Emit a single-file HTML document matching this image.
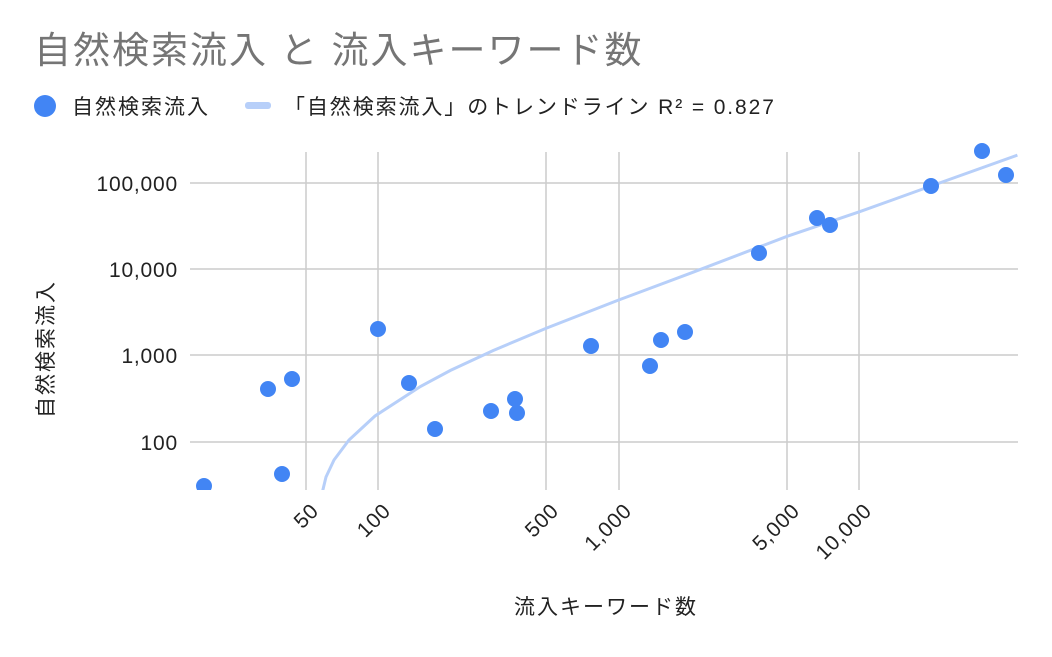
<!DOCTYPE html>
<html><head><meta charset="utf-8"><style>
body{margin:0;background:#fff;}
svg text{font-family:"Liberation Sans","Noto Sans CJK JP",sans-serif;}
</style></head><body>
<svg width="1052" height="652" viewBox="0 0 1052 652" xmlns="http://www.w3.org/2000/svg">
<rect width="1052" height="652" fill="#fff"/>
<text x="34" y="63" font-size="37" letter-spacing="2" fill="#757575">自然検索流入 と 流入キーワード数</text>
<circle cx="45" cy="106" r="11" fill="#4285f4"/>
<text x="72" y="114" font-size="21" letter-spacing="2" fill="#222">自然検索流入</text>
<rect x="245" y="102" width="26" height="7" rx="3" fill="#b7cff9"/>
<text x="284" y="114" font-size="21" letter-spacing="1.9" fill="#222">「自然検索流入」のトレンドライン R² = 0.827</text>
<g stroke="#cccccc" stroke-width="1.5">
<line x1="190" y1="183" x2="1018" y2="183"/>
<line x1="190" y1="269" x2="1018" y2="269"/>
<line x1="190" y1="355" x2="1018" y2="355"/>
<line x1="190" y1="442" x2="1018" y2="442"/>
<line x1="306" y1="152" x2="306" y2="490"/>
<line x1="378" y1="152" x2="378" y2="490"/>
<line x1="546" y1="152" x2="546" y2="490"/>
<line x1="619" y1="152" x2="619" y2="490"/>
<line x1="787" y1="152" x2="787" y2="490"/>
<line x1="859" y1="152" x2="859" y2="490"/>
</g>
<g font-size="21" letter-spacing="0.8" fill="#222" text-anchor="end">
<text x="178" y="191">100,000</text>
<text x="178" y="277">10,000</text>
<text x="178" y="363">1,000</text>
<text x="178" y="450">100</text>
</g>
<g font-size="21" letter-spacing="0.8" fill="#222" text-anchor="end">
<text transform="translate(320,512) rotate(-45)">50</text>
<text transform="translate(392,512) rotate(-45)">100</text>
<text transform="translate(560,512) rotate(-45)">500</text>
<text transform="translate(633,512) rotate(-45)">1,000</text>
<text transform="translate(801,512) rotate(-45)">5,000</text>
<text transform="translate(873,512) rotate(-45)">10,000</text>
</g>
<text x="606" y="614" font-size="21" letter-spacing="2" fill="#222" text-anchor="middle">流入キーワード数</text>
<text transform="translate(53,349) rotate(-90)" font-size="21" letter-spacing="2" fill="#222" text-anchor="middle">自然検索流入</text>
<defs><clipPath id="c"><rect x="190" y="140" width="830" height="350"/></clipPath></defs>
<g clip-path="url(#c)">
<path d="M315,537.7 L318.5,508 L326,477 L334,460 L349,440 L375,416 L420.4,386.5 L450.5,370.4 L493,350.6 L546.5,328.1 L619,299.9 L691.5,272.8 L787.5,236.2 L860,211.6 L932.5,185.5 L1017.4,155.1" fill="none" stroke="#b7cff9" stroke-width="3"/>
<g fill="#4285f4">
<circle cx="204" cy="486" r="8"/><circle cx="268" cy="389" r="8"/><circle cx="282" cy="474" r="8"/><circle cx="292" cy="379" r="8"/>
<circle cx="378" cy="329" r="8"/><circle cx="409" cy="383" r="8"/><circle cx="435" cy="429" r="8"/><circle cx="491" cy="411" r="8"/>
<circle cx="515" cy="399" r="8"/><circle cx="517" cy="413" r="8"/><circle cx="591" cy="346" r="8"/><circle cx="650" cy="366" r="8"/>
<circle cx="661" cy="340" r="8"/><circle cx="685" cy="332" r="8"/><circle cx="759" cy="253" r="8"/><circle cx="817" cy="218" r="8"/>
<circle cx="830" cy="225" r="8"/><circle cx="931" cy="186" r="8"/><circle cx="982" cy="151" r="8"/><circle cx="1006" cy="175" r="8"/>
</g>
</g>
</svg>
</body></html>
